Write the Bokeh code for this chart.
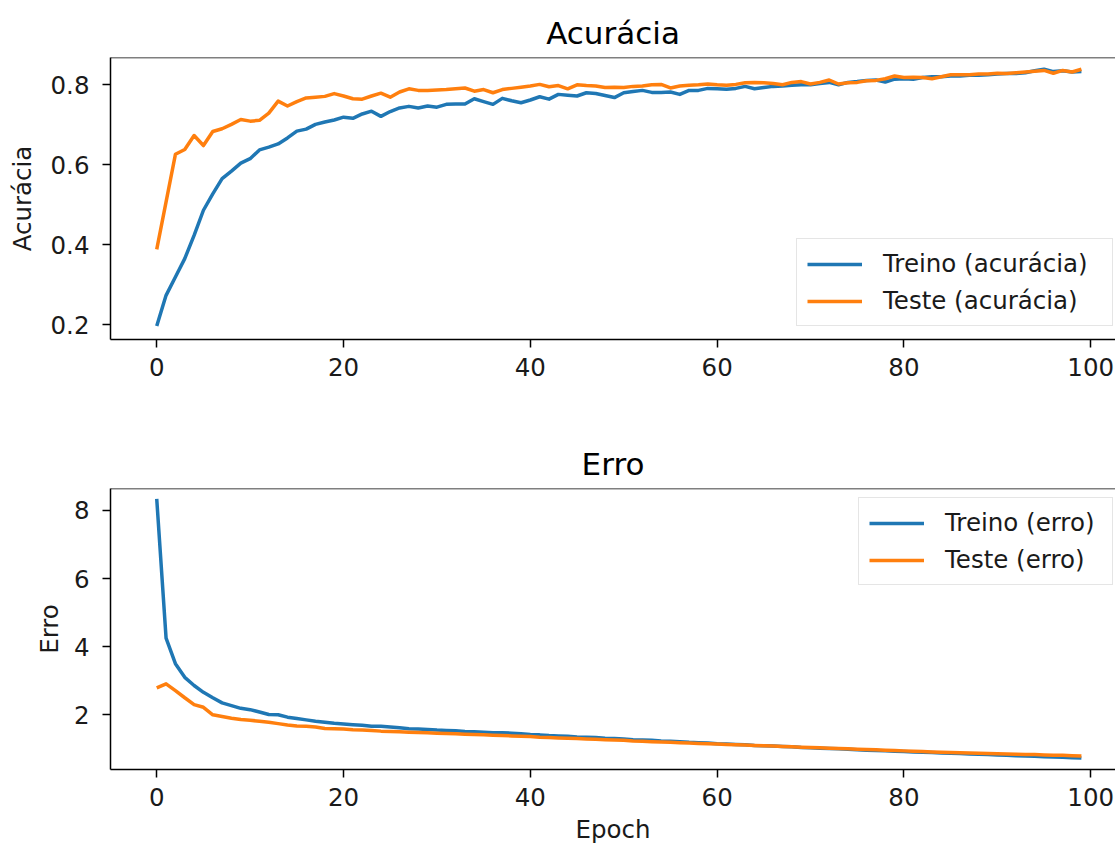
from bokeh.plotting import figure
from bokeh.models import Range1d, Legend, LegendItem, Span, FixedTicker
from bokeh.layouts import column
from bokeh.embed import file_html
from bokeh.resources import INLINE

epochs = list(range(100))

acc_train = [
    0.196, 0.273, 0.319, 0.365, 0.423, 0.486, 0.527, 0.565, 0.584, 0.604,
    0.615, 0.637, 0.644, 0.652, 0.667, 0.684, 0.689, 0.701, 0.707, 0.712,
    0.719, 0.716, 0.727, 0.734, 0.721, 0.733, 0.742, 0.746, 0.742, 0.747,
    0.744, 0.751, 0.752, 0.752, 0.765, 0.758, 0.751, 0.766, 0.760, 0.755,
    0.762, 0.770, 0.764, 0.776, 0.774, 0.772, 0.780, 0.778, 0.773, 0.768,
    0.780, 0.783, 0.786, 0.781, 0.781, 0.782, 0.776, 0.786, 0.786, 0.791,
    0.790, 0.789, 0.791, 0.796, 0.790, 0.793, 0.796, 0.797, 0.799, 0.800,
    0.800, 0.803, 0.806, 0.800, 0.806, 0.808, 0.811, 0.812, 0.807, 0.814,
    0.815, 0.814, 0.818, 0.820, 0.820, 0.822, 0.822, 0.824, 0.824, 0.825,
    0.827, 0.828, 0.828, 0.830, 0.835, 0.839, 0.833, 0.835, 0.832, 0.833,
]

acc_test = [
    0.388, 0.507, 0.626, 0.638, 0.673, 0.648, 0.683, 0.690, 0.701, 0.713,
    0.709, 0.711, 0.729, 0.759, 0.747, 0.758, 0.767, 0.769, 0.771, 0.778,
    0.772, 0.765, 0.764, 0.772, 0.779, 0.769, 0.782, 0.790, 0.786, 0.786,
    0.787, 0.788, 0.790, 0.792, 0.784, 0.788, 0.780, 0.788, 0.791, 0.794,
    0.797, 0.801, 0.795, 0.798, 0.790, 0.800, 0.798, 0.797, 0.793, 0.794,
    0.793, 0.796, 0.797, 0.800, 0.801, 0.792, 0.797, 0.799, 0.800, 0.802,
    0.800, 0.799, 0.801, 0.805, 0.806, 0.805, 0.803, 0.800, 0.806, 0.808,
    0.802, 0.806, 0.812, 0.802, 0.805, 0.806, 0.810, 0.811, 0.815, 0.822,
    0.818, 0.819, 0.818, 0.815, 0.820, 0.825, 0.825, 0.825, 0.827, 0.827,
    0.829, 0.828, 0.830, 0.832, 0.834, 0.836, 0.829, 0.836, 0.832, 0.839,
]

loss_train = [
    8.34, 4.25, 3.50, 3.10, 2.86, 2.66, 2.50, 2.35, 2.27, 2.19,
    2.15, 2.08, 2.01, 2.00, 1.93, 1.89, 1.85, 1.81, 1.78, 1.75,
    1.73, 1.71, 1.69, 1.66, 1.66, 1.64, 1.62, 1.59, 1.58, 1.57,
    1.55, 1.54, 1.53, 1.51, 1.50, 1.49, 1.47, 1.47, 1.46, 1.44,
    1.42, 1.41, 1.39, 1.38, 1.37, 1.35, 1.34, 1.33, 1.31, 1.30,
    1.29, 1.27, 1.26, 1.25, 1.23, 1.22, 1.21, 1.19, 1.18, 1.17,
    1.15, 1.14, 1.13, 1.12, 1.10, 1.09, 1.08, 1.07, 1.06, 1.04,
    1.03, 1.02, 1.01, 1.00, 0.99, 0.97, 0.96, 0.95, 0.94, 0.93,
    0.92, 0.91, 0.90, 0.89, 0.88, 0.87, 0.86, 0.85, 0.84, 0.83,
    0.82, 0.81, 0.80, 0.79, 0.78, 0.77, 0.76, 0.75, 0.74, 0.73,
]

loss_test = [
    2.79, 2.91, 2.71, 2.50, 2.30, 2.22, 2.00, 1.95, 1.90, 1.86,
    1.84, 1.81, 1.78, 1.74, 1.70, 1.67, 1.66, 1.64, 1.60, 1.59,
    1.58, 1.56, 1.55, 1.54, 1.52, 1.51, 1.50, 1.49, 1.48, 1.47,
    1.46, 1.45, 1.44, 1.43, 1.42, 1.41, 1.40, 1.39, 1.38, 1.37,
    1.36, 1.34, 1.33, 1.32, 1.31, 1.30, 1.29, 1.28, 1.27, 1.26,
    1.25, 1.23, 1.22, 1.21, 1.20, 1.19, 1.18, 1.17, 1.16, 1.15,
    1.14, 1.13, 1.12, 1.11, 1.10, 1.09, 1.08, 1.07, 1.06, 1.05,
    1.04, 1.03, 1.02, 1.01, 1.00, 0.99, 0.98, 0.97, 0.96, 0.95,
    0.94, 0.93, 0.92, 0.91, 0.90, 0.89, 0.885, 0.88, 0.87, 0.86,
    0.855, 0.85, 0.84, 0.835, 0.83, 0.82, 0.815, 0.81, 0.80, 0.79,
]

x_ticks = [0, 20, 40, 60, 80, 100]
acc_ticks = [0.2, 0.4, 0.6, 0.8]
loss_ticks = [2, 4, 6, 8]

BLUE = "#1f77b4"
ORANGE = "#ff7f0e"
FONT = "DejaVu Sans"
TXT = "24.5px"


def style(p, yticks, ylabel, ylabel_standoff, xlabel=None):
    p.outline_line_color = None
    p.xgrid.visible = False
    p.ygrid.visible = False
    p.title.text_font = FONT
    p.title.text_font_size = "31px"
    p.title.text_font_style = "normal"
    p.title.text_color = "#000000"
    p.title.align = "center"
    p.title.standoff = 13
    p.title.offset = 8
    for ax in (p.xaxis[0], p.yaxis[0]):
        ax.axis_line_color = "#000000"
        ax.axis_line_width = 1.5
        ax.major_tick_line_color = "#000000"
        ax.major_tick_line_width = 1.5
        ax.major_tick_out = 8
        ax.major_tick_in = 0
        ax.minor_tick_line_color = None
        ax.major_label_text_font = FONT
        ax.major_label_text_font_size = TXT
        ax.major_label_text_color = "#1a1a1a"
        ax.axis_label_text_font = FONT
        ax.axis_label_text_font_size = TXT
        ax.axis_label_text_font_style = "normal"
        ax.axis_label_text_color = "#1a1a1a"
    p.xaxis[0].ticker = FixedTicker(ticks=x_ticks)
    p.yaxis[0].ticker = FixedTicker(ticks=yticks)
    p.xaxis[0].major_label_standoff = 10
    p.yaxis[0].major_label_standoff = 13
    p.yaxis[0].axis_label = ylabel
    p.yaxis[0].axis_label_standoff = ylabel_standoff
    if xlabel:
        p.xaxis[0].axis_label = xlabel
        p.xaxis[0].axis_label_standoff = 6
    top = Span(location=p.y_range.end, dimension="width",
               line_color="#000000", line_width=1.5)
    p.add_layout(top)


def add_legend(p, items, loc, label_width):
    leg = Legend(items=items, location=loc)
    leg.label_text_font = FONT
    leg.label_text_font_size = TXT
    leg.label_text_color = "#1a1a1a"
    leg.glyph_width = 55
    leg.glyph_height = 28
    leg.label_standoff = 21
    leg.label_width = label_width
    leg.spacing = 8
    leg.padding = 10
    leg.border_line_color = "#cccccc"
    leg.border_line_width = 1
    leg.background_fill_color = "#ffffff"
    leg.background_fill_alpha = 0.8
    p.add_layout(leg)


# ---- Accuracy figure ----
p1 = figure(width=1115, height=420, output_backend="svg", toolbar_location=None,
            x_range=Range1d(-4.95, 102.65), y_range=Range1d(0.1625, 0.8683),
            title="Acurácia", min_border_left=110, min_border_right=0,
            min_border_top=57, min_border_bottom=81)
r1 = p1.line(epochs, acc_train, line_color=BLUE, line_width=3.5, line_join="round")
r2 = p1.line(epochs, acc_test, line_color=ORANGE, line_width=3.5, line_join="round")
style(p1, acc_ticks, "Acurácia", 11)
add_legend(p1, [LegendItem(label="Treino (acurácia)", renderers=[r1]),
                LegendItem(label="Teste (acurácia)", renderers=[r2])], (686, 13), 219)

# ---- Loss figure ----
p2 = figure(width=1115, height=428, output_backend="svg", toolbar_location=None,
            x_range=Range1d(-4.95, 102.65), y_range=Range1d(0.393, 8.646),
            title="Erro", min_border_left=110, min_border_right=0,
            min_border_top=68, min_border_bottom=79)
r3 = p2.line(epochs, loss_train, line_color=BLUE, line_width=3.5, line_join="round")
r4 = p2.line(epochs, loss_test, line_color=ORANGE, line_width=3.5, line_join="round")
style(p2, loss_ticks, "Erro", 7, "Epoch")
add_legend(p2, [LegendItem(label="Treino (erro)", renderers=[r3]),
                LegendItem(label="Teste (erro)", renderers=[r4])], (748, 184), 157)

layout = column(p1, p2, spacing=0)
open("out.html", "w").write(file_html(layout, INLINE))
